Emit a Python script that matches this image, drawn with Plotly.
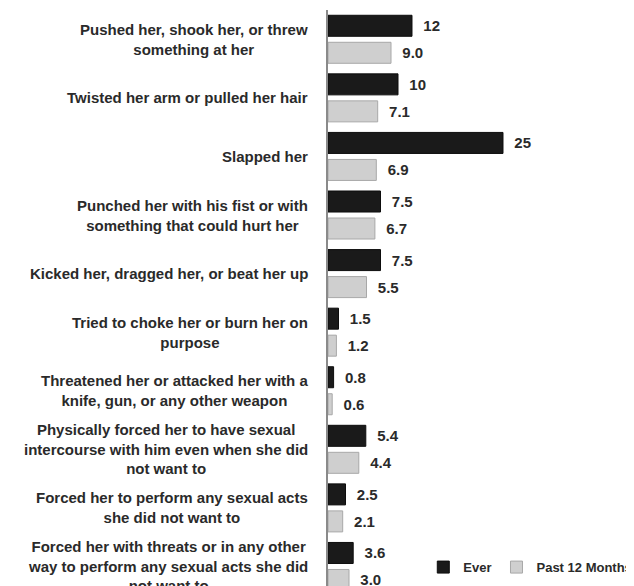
import plotly.graph_objects as go

categories = [
    "Pushed her, shook her, or threw<br>something at her",
    "Twisted her arm or pulled her hair",
    "Slapped her",
    "Punched her with his fist or with<br>something that could hurt her",
    "Kicked her, dragged her, or beat her up",
    "Tried to choke her or burn her on<br>purpose",
    "Threatened her or attacked her with a<br>knife, gun, or any other weapon",
    "Physically forced her to have sexual<br>intercourse with him even when she did<br>not want to",
    "Forced her to perform any sexual acts<br>she did not want to",
    "Forced her with threats or in any other<br>way to perform any sexual acts she did<br>not want to",
]
ever = [12, 10, 25, 7.5, 7.5, 1.5, 0.8, 5.4, 2.5, 3.6]
past12 = [9.0, 7.1, 6.9, 6.7, 5.5, 1.2, 0.6, 4.4, 2.1, 3.0]
ever_text = ["12", "10", "25", "7.5", "7.5", "1.5", "0.8", "5.4", "2.5", "3.6"]
past12_text = ["9.0", "7.1", "6.9", "6.7", "5.5", "1.2", "0.6", "4.4", "2.1", "3.0"]
series_names = ["Ever", "Past 12 Months"]

FONT = "Liberation Sans, Arial, sans-serif"
TXT = "#2a2a2a"

fig = go.Figure()
fig.add_trace(go.Bar(
    y=categories, x=ever, orientation="h", name=series_names[0],
    marker=dict(color="#1a1a1a", line=dict(color="#0d0d0d", width=1)),
    text=ever_text, texttemplate="\u00a0\u00a0%{text}", textposition="outside",
    constraintext="none", cliponaxis=False,
    textfont=dict(family=FONT, size=15, color=TXT, weight=700),
))
fig.add_trace(go.Bar(
    y=categories, x=past12, orientation="h", name=series_names[1],
    marker=dict(color="#cfcfcf", line=dict(color="#a8a8a8", width=1)),
    text=past12_text, texttemplate="\u00a0\u00a0%{text}", textposition="outside",
    constraintext="none", cliponaxis=False,
    textfont=dict(family=FONT, size=15, color=TXT, weight=700),
))

for c in categories:
    fig.add_annotation(
        x=0, xref="paper", y=c, yref="y", xanchor="right", yanchor="middle",
        xshift=-18, align="center", showarrow=False, text=c,
        font=dict(family=FONT, size=15, color=TXT, weight=700),
    )

fig.update_layout(
    width=634, height=586,
    margin=dict(l=320, r=0, t=2, b=0),
    paper_bgcolor="white", plot_bgcolor="white",
    barmode="group", bargap=0.078, bargroupgap=0.222,
    showlegend=True,
    legend=dict(orientation="h", x=0.985, xanchor="right", y=0.046, yanchor="middle",
                font=dict(family=FONT, size=13, color=TXT, weight=700),
                bgcolor="rgba(0,0,0,0)", itemwidth=30, traceorder="normal"),
    xaxis=dict(visible=False, range=[0, 44.86], fixedrange=True),
    yaxis=dict(range=[9.47, -0.5], showticklabels=False, ticks="",
               showgrid=False, zeroline=False, showline=True,
               linecolor="#8a8a8a", linewidth=1.5, fixedrange=True),
)

fig.write_html("out.html")
